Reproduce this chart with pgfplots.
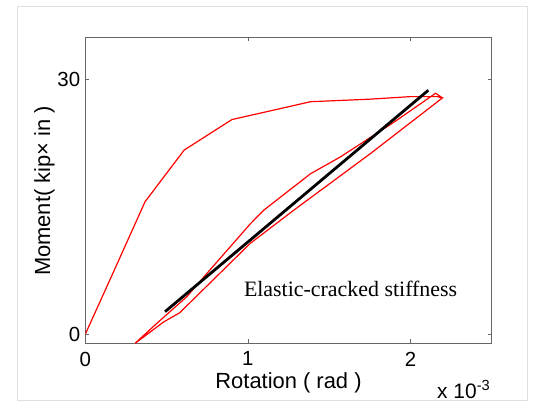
\documentclass[border=0pt]{standalone}
\usepackage{pgfplots}
\pgfplotsset{compat=1.18}
\usepackage{fontspec}
\setmainfont{Liberation Sans}
\newfontfamily\timesfont{Liberation Serif}
\begin{document}
\begin{tikzpicture}
\path[use as bounding box] (0bp,0bp) rectangle (540bp,401bp);
\draw[black!12, line width=1bp] (17.2bp,1bp) rectangle (527bp,394.3bp);
\begin{axis}[at={(85.4bp,57.7bp)}, anchor=south west, scale only axis,
  width=406.3bp, height=306bp,
  xmin=0, xmax=2.5, ymin=-1.1, ymax=35,
  xtick={0,1,2}, ytick={0,30},
  tick align=inside, major tick length=4bp,
  axis line style={draw=black!60, line width=1.1bp},
  every tick/.style={draw=black!60, line width=0.8bp},
  ticklabel style={font=\fontsize{20.5}{24}\selectfont},
  /pgf/number format/assume math mode=true,
  xticklabel style={inner sep=0pt, anchor=north, yshift=-8.4bp},
  yticklabel style={inner sep=0pt, anchor=east, xshift=-5bp},
  clip=true]
\addplot[red, line width=1.2bp] coordinates {
 (0,0) (0.17,7.2) (0.367,15.6) (0.608,21.7) (0.902,25.3) (1.087,26.1)
 (1.385,27.4) (1.75,27.7) (2.0,28.0) (2.166,28.0) (2.197,27.85)
 (1.755,21.3) (1.282,14.6) (1.015,10.7) (0.58,2.5) (0.48,1.4) (0.306,-1.1)
 (0.419,0.9) (0.624,4.4) (0.748,7.15) (1.015,13.0) (1.097,14.6) (1.385,18.9)
 (1.57,20.9) (1.755,23.2) (1.9,25.0) (2.155,28.4) (2.197,27.85)
};
\addplot[black, line width=2.8bp] coordinates {(0.49,2.63) (2.11,28.75)};
\end{axis}
\node[anchor=base, font=\fontsize{22}{26}\selectfont] at (288.5bp,12.3bp) {Rotation ( rad )};
\node[anchor=base, rotate=90, font=\fontsize{22}{26}\selectfont] at (50bp,210bp) {Moment( kip× in )};
\node[anchor=base west, inner sep=0pt, font=\fontsize{21}{25}\selectfont] at (437bp,3bp) {x 10\textsuperscript{-3}};
\node[anchor=base west, inner sep=0pt, font=\timesfont\fontsize{22}{26}\selectfont] at (243.8bp,104.3bp) {Elastic-cracked stiffness};
\end{tikzpicture}
\end{document}
